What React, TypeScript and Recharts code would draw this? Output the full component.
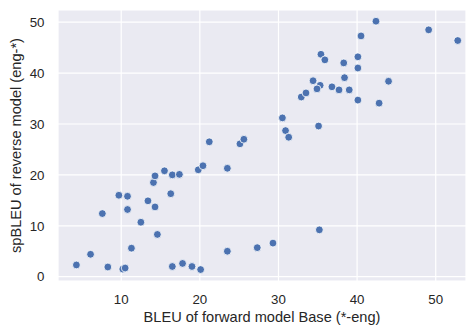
import React from "react";
import { ScatterChart, Scatter, XAxis, YAxis, CartesianGrid } from "recharts";

const forwardBleu = [
  4.3, 6.1, 8.3, 10.2, 10.5, 11.3, 14.6, 12.5, 7.6, 10.8, 14.3, 13.4, 9.7, 10.8, 14.1, 14.3, 15.5,
  16.3, 16.5, 17.4, 19.8, 20.4, 23.5, 16.5, 17.8, 19.0, 20.1, 23.5, 27.3, 29.3, 35.2, 21.2, 25.1,
  25.6, 30.5, 30.9, 31.3, 35.1, 32.9, 33.5, 34.4, 35.3, 34.9, 35.4, 35.9, 36.8, 37.7, 38.3, 38.4,
  39.0, 40.1, 40.1, 40.1, 40.5, 42.4, 44.0, 42.8, 49.1, 52.8,
];
const reverseSpBleu = [
  2.3, 4.4, 1.9, 1.5, 1.7, 5.6, 8.3, 10.7, 12.4, 13.2, 13.7, 14.9, 16.0, 15.8, 18.5, 19.8, 20.8,
  16.3, 20.0, 20.1, 21.0, 21.8, 21.3, 2.0, 2.6, 2.0, 1.4, 5.0, 5.7, 6.6, 9.2, 26.5, 26.1,
  27.0, 31.2, 28.7, 27.4, 29.6, 35.3, 36.1, 38.5, 37.6, 36.9, 43.7, 42.6, 37.3, 36.7, 42.0, 39.1,
  36.7, 43.2, 41.0, 34.7, 47.3, 50.2, 38.4, 34.1, 48.5, 46.4,
];
const xTicks = [10, 20, 30, 40, 50];
const yTicks = [0, 10, 20, 30, 40, 50];

const data = forwardBleu.map((x, i) => ({ x, y: reverseSpBleu[i] }));

const FONT = "'Liberation Sans', Arial, sans-serif";
const TEXT = "#262626";

const Dot = (props: any) => {
  const { cx, cy } = props;
  return <circle cx={cx} cy={cy} r={3.9} fill="#4C72B0" stroke="#ffffff" strokeWidth={0.8} />;
};

const XLabel = (props: any) => {
  const vb = props.viewBox || {};
  return (
    <text
      x={vb.x + vb.width / 2}
      y={vb.y + vb.height - 5}
      textAnchor="middle"
      fontFamily={FONT}
      fontSize={14.6}
      fill={TEXT}
    >
      BLEU of forward model Base (*-eng)
    </text>
  );
};

const YLabel = (props: any) => {
  const vb = props.viewBox || {};
  const cx = 21;
  const cy = vb.y + vb.height / 2;
  return (
    <text
      x={cx}
      y={cy}
      transform={`rotate(-90, ${cx}, ${cy})`}
      textAnchor="middle"
      fontFamily={FONT}
      fontSize={14.6}
      fill={TEXT}
    >
      spBLEU of reverse model (eng-*)
    </text>
  );
};

export default function App() {
  return (
    <div style={{ position: "absolute", left: 0, top: 0, background: "#ffffff" }}>
      <ScatterChart width={471} height={327} margin={{ top: 10, right: 5, bottom: 0, left: 0 }}>
        <CartesianGrid fill="#EAEAF2" fillOpacity={1} stroke="#ffffff" strokeWidth={1.2} />
        <XAxis
          type="number"
          dataKey="x"
          domain={[1.96, 53.85]}
          ticks={xTicks}
          allowDataOverflow
          height={46}
          axisLine={false}
          tickLine={false}
          tickSize={0}
          tickMargin={14}
          tick={{ fill: TEXT, fontSize: 13.3, fontFamily: FONT }}
          label={<XLabel />}
        />
        <YAxis
          type="number"
          dataKey="y"
          domain={[-0.85, 52.4]}
          ticks={yTicks}
          allowDataOverflow
          width={58}
          axisLine={false}
          tickLine={false}
          tickSize={0}
          tickMargin={13.5}
          tick={{ fill: TEXT, fontSize: 13.3, fontFamily: FONT }}
          label={<YLabel />}
        />
        <Scatter data={data} shape={<Dot />} isAnimationActive={false} />
      </ScatterChart>
    </div>
  );
}
